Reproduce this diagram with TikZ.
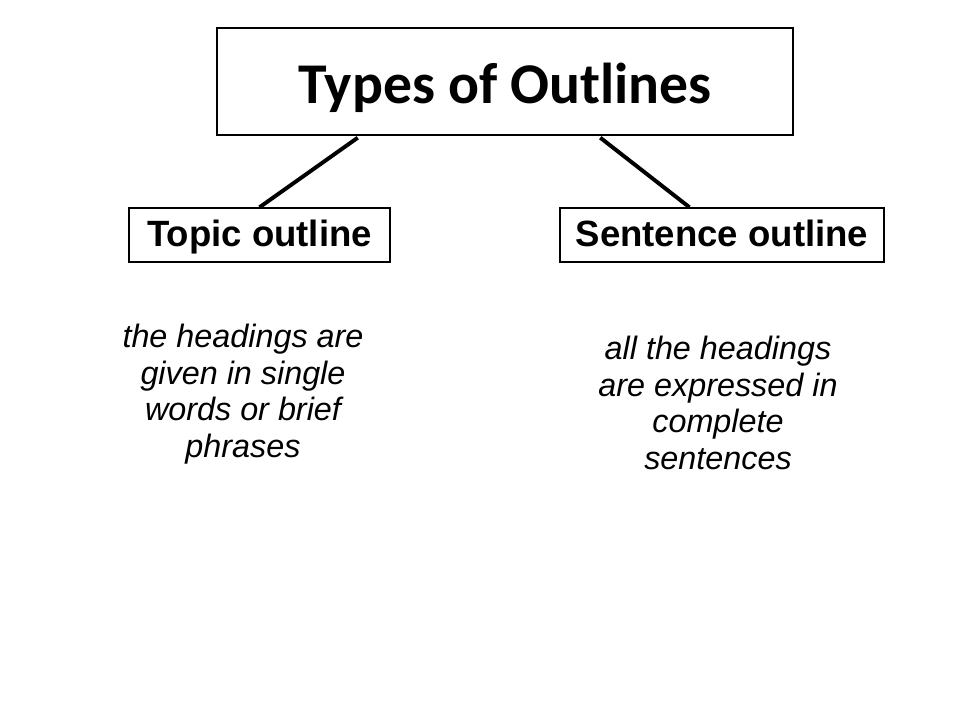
\documentclass[tikz,border=0pt]{standalone}
\usepackage{fontspec}
\setmainfont{Liberation Sans}
\newfontfamily\titlefont{Carlito}
\usetikzlibrary{calc}
\usetikzlibrary{positioning}

\tikzset{
  headbox/.style={draw, line width=1pt, inner sep=0pt},
  kindbox/.style={headbox, minimum height=1.35cm, text height=19pt,
    text depth=2pt, font=\bfseries\fontsize{26}{31}\selectfont},
  branch/.style={line width=2.8pt},
  note/.style={align=center, font=\fontsize{23}{26}\selectfont\itshape}
}

\begin{document}
\begin{tikzpicture}[x=0.025cm, y=-0.025cm]

    \useasboundingbox (0, 0) rectangle (960, 720);

    \node[headbox, minimum width=14.4cm, minimum height=2.675cm,
      text height=31pt, text depth=0pt,
      font=\titlefont\bfseries\fontsize{41}{48}\selectfont]
      (title) at (505, 81.5) {Types of Outlines};

    \node[kindbox, minimum width=6.525cm] (topic) at (259.5, 235)
      {Topic outline};
    \node[kindbox, minimum width=8.1cm] (sentence) at (722, 235)
      {Sentence outline};

    \coordinate (tl) at ($(title.south west)!0.245!(title.south east)+(0, 2)$);
    \coordinate (tr) at ($(title.south west)!0.665!(title.south east)+(0, 2)$);
    \coordinate (sn) at ($(sentence.north west)!0.4!(sentence.north east)$);

    \draw[branch] (tl) -- (topic.north);
    \draw[branch] (tr) -- (sn);

    \node[note] (topicnote) at (243, 394) {the headings are\\
      given in single\\ words or brief\\ phrases};
    \node[note] (sentnote) at (718, 403) {all the headings\\
      are expressed in\\ complete\\ sentences};

  \end{tikzpicture}
\end{document}
